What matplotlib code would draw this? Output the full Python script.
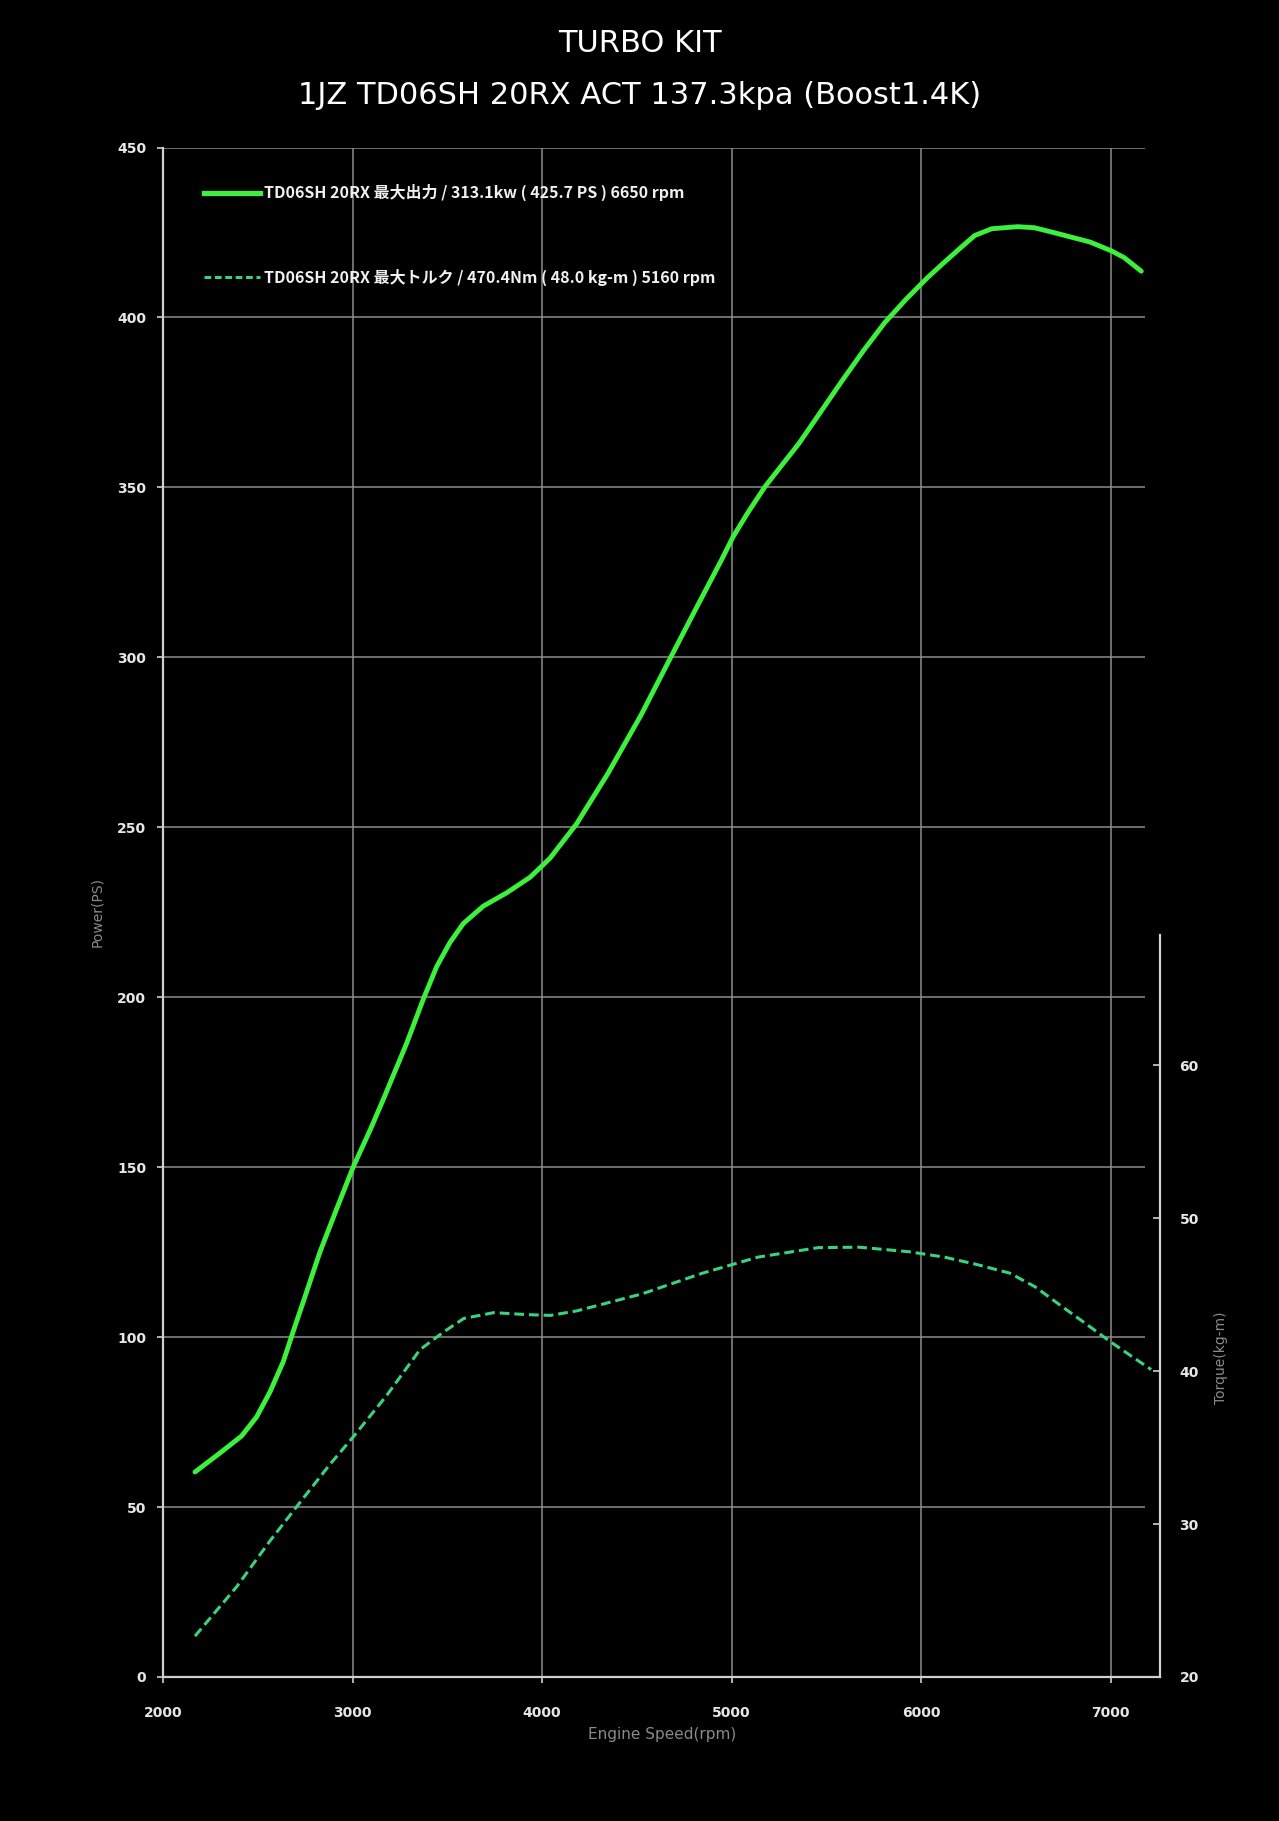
import numpy as np
import matplotlib.pyplot as plt
from matplotlib.lines import Line2D

# ============================================
# 1JZ TD06SH 20RX dyno sheet - power / torque
# ============================================

# Power curve (rpm, PS)
power_rpm = [2169, 2301, 2415, 2494, 2565, 2635, 2688, 2741, 2828, 2917, 3004, 3092,
             3163, 3286, 3374, 3444, 3514, 3585, 3690, 3813, 3937, 4042, 4182, 4346,
             4522, 4663, 4804, 4945, 5008, 5087, 5177, 5356, 5583, 5695, 5808, 5921,
             6033, 6123, 6214, 6282, 6372, 6508, 6597, 6711, 6890, 7003, 7071, 7161]
power_ps = [60.3, 65.9, 70.9, 76.5, 83.9, 92.8, 101.8, 110.5, 125.0, 137.8, 150.1, 160.8,
            170.0, 186.5, 199.5, 209.0, 216.1, 221.7, 226.8, 230.7, 235.3, 240.9, 251.0, 265.7,
            283.0, 298.3, 313.5, 328.5, 335.5, 342.7, 350.3, 363.0, 381.4, 390.2, 398.5, 405.4,
            411.7, 416.3, 420.8, 424.1, 426.1, 426.7, 426.4, 424.8, 422.2, 419.6, 417.6, 413.6]

# Torque curve (rpm, kg-m)
torque_rpm = [2169, 2389, 2565, 2741, 2881, 3004, 3180, 3356, 3481, 3587, 3745, 3921,
              4044, 4185, 4528, 4846, 5139, 5457, 5671, 5937, 6122, 6283, 6468, 6602,
              6734, 6868, 7000, 7106, 7213]
torque_kgm = [22.67, 25.9, 28.9, 31.7, 33.9, 35.7, 38.4, 41.4, 42.56, 43.44, 43.82, 43.69,
              43.64, 43.94, 45.05, 46.4, 47.45, 48.07, 48.1, 47.8, 47.45, 47.0, 46.4, 45.5,
              44.3, 43.1, 41.9, 41.0, 40.1]

x_ticks = [2000, 3000, 4000, 5000, 6000, 7000]
power_ticks = list(range(0, 451, 50))
torque_ticks = [20, 30, 40, 50, 60]

title1 = "TURBO KIT"
title2 = "1JZ TD06SH 20RX ACT 137.3kpa (Boost1.4K)"
label_power = "TD06SH 20RX 最大出力 / 313.1kw ( 425.7 PS ) 6650 rpm"
label_torque = "TD06SH 20RX 最大トルク / 470.4Nm ( 48.0 kg-m ) 5160 rpm"

# colours
bg = "black"
power_col = "#3cf03c"
torque_col = "#3ad27c"
grid_col = "#8c8c8c"
spine_col = "#d0d0d0"
tick_col = "#e6e6e6"
label_col = "#8a8a8a"
cjk = ["Noto Sans CJK JP", "DejaVu Sans"]

fig = plt.figure(figsize=(12.79, 18.21), dpi=100, facecolor=bg)
ax = fig.add_axes([0.1274, 0.0791, 0.7796, 0.8399], facecolor=bg)

x_max = 7260
grid_end = 7182
ax.set_xlim(2000, x_max)
ax.set_ylim(0, 450)

# grid (stops a little short of the right spine, like the original)
ax.hlines(power_ticks[1:], 2000, grid_end, color=grid_col, lw=1.1, zorder=1)
ax.vlines(x_ticks[1:], 0, 450, color=grid_col, lw=1.1, zorder=1)

ax.plot(power_rpm, power_ps, color=power_col, lw=3.5, solid_capstyle="round",
        solid_joinstyle="round", zorder=5)

ax.set_xticks(x_ticks)
ax.set_yticks(power_ticks)
ax.tick_params(axis="both", colors=spine_col, labelcolor=tick_col, length=4, width=1.2,
               direction="out", labelsize=10)
ax.tick_params(axis="x", pad=17)
ax.tick_params(axis="y", pad=8)
for lab in ax.get_xticklabels() + ax.get_yticklabels():
    lab.set_fontweight("bold")

for side in ["top", "right"]:
    ax.spines[side].set_visible(False)
for side in ["left", "bottom"]:
    ax.spines[side].set_color(spine_col)
    ax.spines[side].set_linewidth(1.6)

# torque axis on the right
ax2 = ax.twinx()
ax2.set_ylim(20, 120)
ax2.plot(torque_rpm, torque_kgm, color=torque_col, lw=2.2, dashes=(3.2, 1.6), zorder=5)
ax2.set_yticks(torque_ticks)
ax2.tick_params(axis="y", colors=spine_col, labelcolor=tick_col, length=5, width=1.2,
                direction="in", labelsize=10, pad=14)
for lab in ax2.get_yticklabels():
    lab.set_fontweight("bold")
for side in ["top", "left", "bottom"]:
    ax2.spines[side].set_visible(False)
ax2.spines["right"].set_color(spine_col)
ax2.spines["right"].set_linewidth(1.6)
ax2.spines["right"].set_bounds(20, 68.5)

# legend
handles = [Line2D([], [], color=power_col, lw=3.8),
           Line2D([], [], color=torque_col, lw=2.2, dashes=(2.2, 1.2))]
leg = ax2.legend(handles, [label_power, label_torque], loc="upper left",
                 bbox_to_anchor=(0.041, 0.976), frameon=False, borderpad=0,
                 borderaxespad=0, labelspacing=4.2, handlelength=3.5,
                 handletextpad=0.25, prop={"family": cjk, "size": 11.5, "weight": "bold"})
for t in leg.get_texts():
    t.set_color("#f0f0f0")

# axis titles
fig.text(97 / 1279, 1 - 912 / 1821, "Power(PS)", rotation=90, ha="center", va="center",
         color=label_col, fontsize=10)
fig.text(1221 / 1279, 1 - 1358 / 1821, "Torque(kg-m)", rotation=90, ha="center",
         va="center", color=label_col, fontsize=10)
fig.text(662 / 1279, 1 - 1735 / 1821, "Engine Speed(rpm)", ha="center", va="center",
         color=label_col, fontsize=11)

# titles
fig.text(0.5, 1 - 43 / 1821, title1, ha="center", va="center", color="white", fontsize=22)
fig.text(0.5, 1 - 95 / 1821, title2, ha="center", va="center", color="white", fontsize=22)

fig.savefig("out.png", dpi=100, facecolor=bg)
